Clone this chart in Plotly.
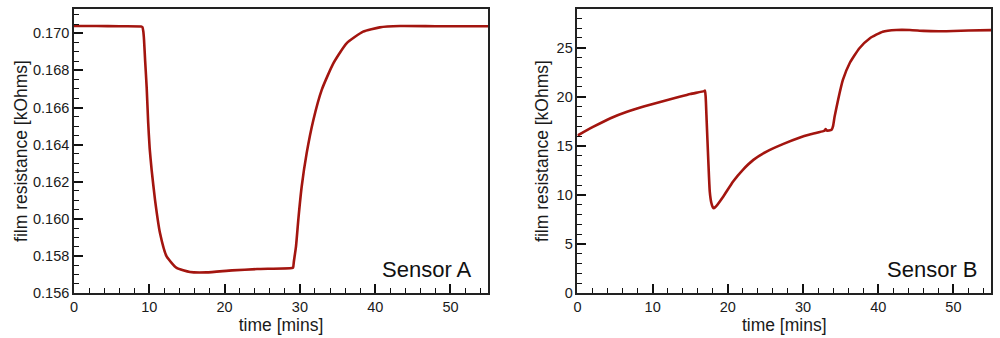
import plotly.graph_objects as go

# Sensor A (time in minutes, resistance in kOhms)
time_a = [0, 3, 6, 8.9, 9.08, 9.2, 9.3, 9.45, 9.65, 9.85, 10.05, 10.31, 10.76, 11.42, 12.3,
          13.63, 15.4, 17.6, 21, 24.3, 28.95, 29.1, 29.2, 29.48, 29.8, 30.24,
          30.9, 31.79, 32.9, 34.44, 36.2, 38.4, 40.6, 43.3, 48, 55]
res_a = [0.17039, 0.17039, 0.17038, 0.17037, 0.17034, 0.17012, 0.16965, 0.16850, 0.16710,
         0.16520, 0.16380, 0.16264, 0.16102, 0.15923, 0.15797, 0.15735, 0.15713, 0.15711,
         0.15722, 0.15729, 0.15735, 0.15738, 0.15770, 0.15850, 0.16000, 0.16174, 0.16354,
         0.16533, 0.16695, 0.16838, 0.16946, 0.17009, 0.17032, 0.17039, 0.17038, 0.17038]

# Sensor B
time_b = [0, 2, 4.39, 6.5, 8.8, 11, 13.2, 15, 16.85, 16.96, 17.05, 17.18, 17.4, 17.6, 17.8,
          18.0, 18.15, 18.4, 19.4, 20.7, 22.0, 23.4, 25.15, 27.4, 29.6, 30.9, 32.7, 32.85,
          33.0, 33.15, 33.8, 34.0, 34.2, 34.66, 35.3, 36.2, 37.5, 38.9, 40.6, 42.4, 44.2, 46,
          48, 50, 52, 55]
res_b = [16.05, 16.9, 17.82, 18.45, 19.0, 19.48, 19.92, 20.28, 20.58, 20.63, 20.0, 17.6,
         13.5, 10.3, 9.2, 8.75, 8.65, 8.8, 9.84, 11.37, 12.56, 13.57, 14.42, 15.2, 15.85,
         16.15, 16.5, 16.55, 16.72, 16.56, 16.63, 17.04, 17.98, 19.68, 21.72, 23.42, 24.95,
         25.97, 26.64, 26.81, 26.81, 26.72, 26.68, 26.70, 26.76, 26.80]

x_ticks = [0, 10, 20, 30, 40, 50]
ya_ticks = [0.156, 0.158, 0.160, 0.162, 0.164, 0.166, 0.168, 0.170]
yb_ticks = [0, 5, 10, 15, 20, 25]

LINE = "#a3150f"
FONT = "Liberation Sans, Arial, Helvetica, sans-serif"

fig = go.Figure()
fig.add_trace(go.Scatter(x=time_a, y=res_a, mode="lines",
                         line=dict(color=LINE, width=2.6, shape="spline", smoothing=0.5),
                         xaxis="x", yaxis="y", showlegend=False, hoverinfo="skip"))
fig.add_trace(go.Scatter(x=time_b, y=res_b, mode="lines",
                         line=dict(color=LINE, width=2.6, shape="spline", smoothing=0.5),
                         xaxis="x2", yaxis="y2", showlegend=False, hoverinfo="skip"))

common_axis = dict(
    showgrid=False, zeroline=False, showline=True, linecolor="#222", linewidth=1.6,
    mirror=True, ticks="inside", ticklen=9, tickwidth=2, tickcolor="#111",
    automargin=False,
    tickfont=dict(family=FONT, size=14.5, color="#1a1a1a"),
    title_font=dict(family=FONT, size=17.5, color="#1a1a1a"),
)

L, R, T, B = 74, 9.3, 9, 44.7
W = 1000 - L - R

fig.update_layout(
    width=1000, height=338, margin=dict(l=L, r=R, t=T, b=B, autoexpand=False),
    plot_bgcolor="white", paper_bgcolor="white",
    xaxis=dict(common_axis, domain=[0, 414 / W], range=[0, 55],
               tickvals=x_ticks, anchor="y",
               minor=dict(dtick=2, ticklen=5, tickwidth=1, tickcolor="#111", ticks="inside"),
               title=dict(text="time [mins]", standoff=3)),
    yaxis=dict(common_axis, domain=[0, 1], range=[0.156, 0.17131],
               tickvals=ya_ticks, tickformat=".3f", anchor="x",
               minor=dict(dtick=0.0005, tick0=0.156, ticklen=5, tickwidth=1, tickcolor="#111",
                          ticks="inside"),
               title=dict(text="film resistance [kOhms]", standoff=1)),
    xaxis2=dict(common_axis, domain=[(577.3 - L) / W, 1], range=[0, 55],
                tickvals=x_ticks, anchor="y2",
                minor=dict(dtick=2, ticklen=5, tickwidth=1, tickcolor="#111", ticks="inside"),
                title=dict(text="time [mins]", standoff=3)),
    yaxis2=dict(common_axis, domain=[0, 1], range=[0, 28.95],
                tickvals=yb_ticks, anchor="x2",
                minor=dict(dtick=1, tick0=0, ticklen=5, tickwidth=1, tickcolor="#111",
                           ticks="inside"),
                title=dict(text="film resistance [kOhms]", standoff=3)),
    annotations=[
        dict(text="Sensor A", xref="x domain", yref="y domain", x=0.966, y=0.082,
             xanchor="right", yanchor="middle", showarrow=False,
             font=dict(family=FONT, size=22, color="#111")),
        dict(text="Sensor B", xref="x2 domain", yref="y2 domain", x=0.974, y=0.082,
             xanchor="right", yanchor="middle", showarrow=False,
             font=dict(family=FONT, size=22, color="#111")),
    ],
)

fig.write_html("out.html", config={"displayModeBar": False},
               post_script="document.body.style.margin='0';document.body.style.overflow='hidden';")
